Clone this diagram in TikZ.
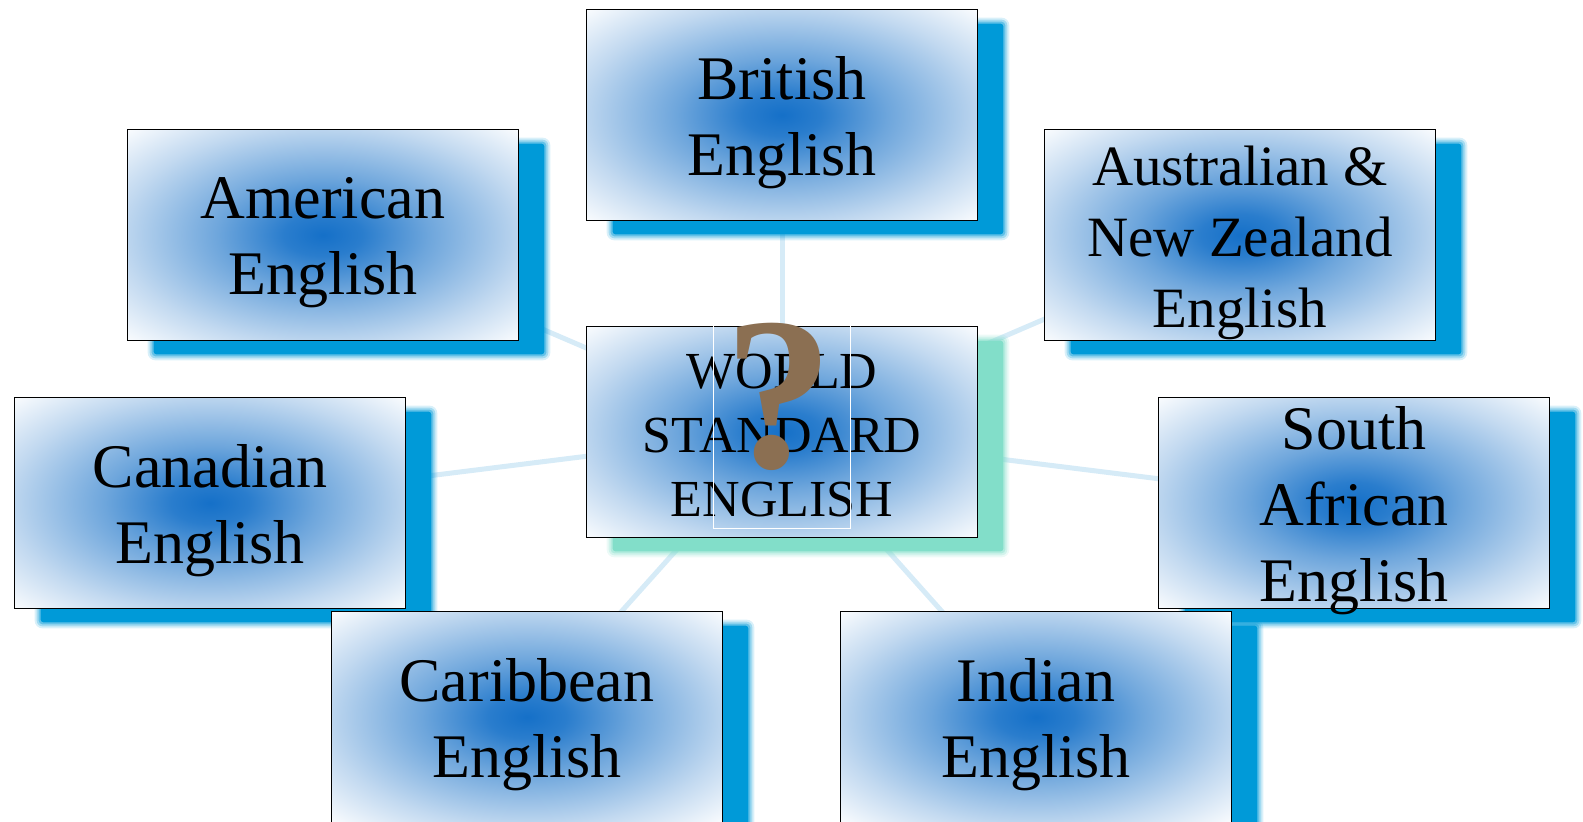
\documentclass[tikz,border=0pt]{standalone}
\usepackage{fontspec}
\setmainfont{Liberation Serif}
\pgfdeclarelayer{lzero}
\pgfdeclarelayer{lone}
\pgfsetlayers{lzero,lone,main}
\definecolor{sblue}{HTML}{009AD8}
\definecolor{steal}{HTML}{82DEC9}
\definecolor{conn}{HTML}{D6EBF7}
\definecolor{qbrown}{HTML}{8B6F52}
\definecolor{sczero}{HTML}{1570C8}
\definecolor{scone}{HTML}{2A7DCD}
\definecolor{sctwo}{HTML}{6EA6DC}
\definecolor{scthree}{HTML}{C2D9F0}
\definecolor{scfour}{HTML}{FAFCFE}
\pgfdeclareradialshading{boxshade}{\pgfpoint{0bp}{0bp}}{color(0bp)=(sczero); color(5bp)=(scone); color(13.5bp)=(sctwo); color(26bp)=(scthree); color(35.4bp)=(scfour); color(50bp)=(scfour)}
\tikzset{
  box/.style={rectangle, draw=black, line width=1.8pt, shading=boxshade, minimum width=391pt, minimum height=211pt, inner sep=0pt},
  txt/.style={align=center, font=\fontsize{62}{76}\selectfont, text=black, inner sep=0pt},
  link/.style={draw=conn, line width=5pt},
  qframe/.style={draw=white, line width=1.5pt, minimum width=137pt, minimum height=203pt, inner sep=0pt},
  qmark/.style={anchor=base, text=qbrown, font=\fontsize{218}{218}\selectfont\bfseries, inner sep=0pt}
}
\newcommand\myshadow[2]{%
  \fill[#2,opacity=.15,rounded corners=8pt] ([shift={(21,9)}]#1.north west) rectangle ([shift={(31,19)}]#1.south east);
  \fill[#2,opacity=.25,rounded corners=6pt] ([shift={(23,11)}]#1.north west) rectangle ([shift={(29,17)}]#1.south east);
  \fill[#2,opacity=.4,rounded corners=4pt] ([shift={(25,13)}]#1.north west) rectangle ([shift={(27,15)}]#1.south east);
  \fill[#2,rounded corners=3pt] ([shift={(27,15)}]#1.north west) rectangle ([shift={(25,13)}]#1.south east);
}
\begin{document}
\begin{tikzpicture}[x=1pt,y=-1pt]
\useasboundingbox (0,0) rectangle (1583,822);
% boxes
\node[box] (brit) at (782,115) {};
\node[box] (amer) at (323,235) {};
\node[box] (aus)  at (1240,235) {};
\node[box] (wse)  at (782,432) {};
\node[box] (can)  at (210,503) {};
\node[box] (saf)  at (1354,503) {};
\node[box] (car)  at (527,717) {};
\node[box] (ind)  at (1036,717) {};
% labels
\node[txt] (britt) at ([yshift=-8pt]brit.center) {British\\English};
\node[txt] (amert) at ([yshift=-8pt]amer.center) {American\\English};
\node[txt, font=\fontsize{57}{71}\selectfont] (aust) at ([yshift=-8pt]aus.center) {Australian \&\\New Zealand\\English};
\node[txt, font=\fontsize{52}{64}\selectfont] (wset) at ([yshift=-4pt]wse.center) {WORLD\\STANDARD\\ENGLISH};
\node[txt] (cant) at ([yshift=-8pt]can.center) {Canadian\\English};
\node[txt] (saft) at ([yshift=-8pt]saf.center) {South\\African\\English};
\node[txt] (cart) at ([yshift=-8pt]car.center) {Caribbean\\English};
\node[txt] (indt) at ([yshift=-8pt]ind.center) {Indian\\English};
% question mark overlay
\node[qframe] (qf) at (782,427) {};
\node[qmark] (q) at (779,467) {?};
% links and shadows
\begin{pgfonlayer}{lzero}
  \foreach \t in {brit,amer,aus,can,saf,car,ind}
    \draw[link] (wse.center) -- (\t.center);
\end{pgfonlayer}
\begin{pgfonlayer}{lone}
  \myshadow{wse}{steal}
  \foreach \t in {brit,amer,aus,can,saf,car,ind}
    {\myshadow{\t}{sblue}}
\end{pgfonlayer}
\end{tikzpicture}
\end{document}
